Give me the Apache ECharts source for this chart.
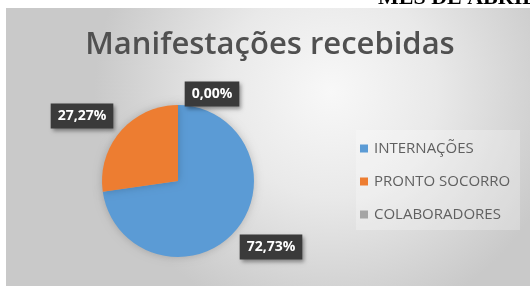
<!DOCTYPE html>
<html>
<head>
<meta charset="utf-8">
<script src="https://cdn.jsdelivr.net/npm/echarts@6/dist/echarts.min.js"></script>
<style>
  html, body { margin: 0; padding: 0; background: #fff; }
  #main { width: 530px; height: 287px; }
</style>
</head>
<body>
<div id="main"></div>
<script>
// dados do gráfico
const categorias = ['INTERNAÇÕES', 'PRONTO SOCORRO', 'COLABORADORES'];
const valores = [72.73, 27.27, 0];
const cores = ['#5B9BD5', '#ED7D31', '#A5A5A5'];
const titulo = 'Manifestações recebidas';

// posição das caixas de rótulo (centro), como no Excel
const posRotulos = [[271, 247], [82, 116], [212, 94]];

const chart = echarts.init(document.getElementById('main'));

const option = {
  animation: false,
  graphic: [
    {
      type: 'rect',
      z: -10,
      shape: { x: 6, y: 8, width: 524, height: 278 },
      style: {
        fill: new echarts.graphic.RadialGradient(0.62, 0.3, 0.85, [
          { offset: 0, color: '#f8f8f8' },
          { offset: 0.45, color: '#e9e9e9' },
          { offset: 1, color: '#c9c9c9' },
        ]),
      },
    },
    {
      // cabeçalho cortado no topo da página
      type: 'text',
      left: 378,
      top: -13,
      style: {
        text: 'MES DE ABRIL',
        font: 'bold 22px "Liberation Serif", serif',
        fill: '#000',
      },
    },
    {
      type: 'rect',
      z: -5,
      shape: { x: 356, y: 130, width: 164, height: 100 },
      style: { fill: 'rgba(255,255,255,0.25)' },
    },
  ],
  title: {
    text: titulo,
    left: 265,
    textAlign: 'center',
    top: 25,
    textStyle: {
      fontFamily: '"Open Sans", sans-serif',
      fontSize: 31,
      fontWeight: 600,
      color: '#505050',
    },
  },
  legend: {
    orient: 'vertical',
    left: 360,
    top: 140,
    padding: 0,
    itemWidth: 8,
    itemHeight: 8,
    itemGap: 16,
    itemStyle: { borderWidth: 0 },
    icon: 'rect',
    data: categorias,
    textStyle: {
      fontFamily: '"Open Sans", sans-serif',
      fontSize: 15,
      lineHeight: 17,
      color: '#606060',
      padding: [0, 0, 0, 1],
    },
  },
  series: [
    {
      type: 'pie',
      center: [178, 181],
      radius: 76,
      startAngle: 90,
      clockwise: true,
      stillShowZeroSum: true,
      minShowLabelAngle: 0,
      avoidLabelOverlap: false,
      itemStyle: {
        shadowBlur: 8,
        shadowColor: 'rgba(0,0,0,0.2)',
      },
      label: {
        show: true,
        position: 'outside',
        formatter: (p) => p.value.toFixed(2).replace('.', ',') + '%',
        backgroundColor: '#3a3a3a',
        color: '#fff',
        fontFamily: '"Open Sans", sans-serif',
        fontWeight: 'bold',
        fontSize: 14,
        padding: [6, 7, 5, 7],
        shadowBlur: 4,
        shadowOffsetX: 2,
        shadowOffsetY: 2,
        shadowColor: 'rgba(0,0,0,0.4)',
      },
      labelLine: { show: false },
      labelLayout: (params) => {
        const p = posRotulos[params.dataIndex];
        return { x: p[0], y: p[1], align: 'center', verticalAlign: 'middle' };
      },
      data: categorias.map((nome, i) => ({
        name: nome,
        value: valores[i],
        itemStyle: { color: cores[i] },
      })),
    },
  ],
};

chart.setOption(option);
</script>
</body>
</html>
